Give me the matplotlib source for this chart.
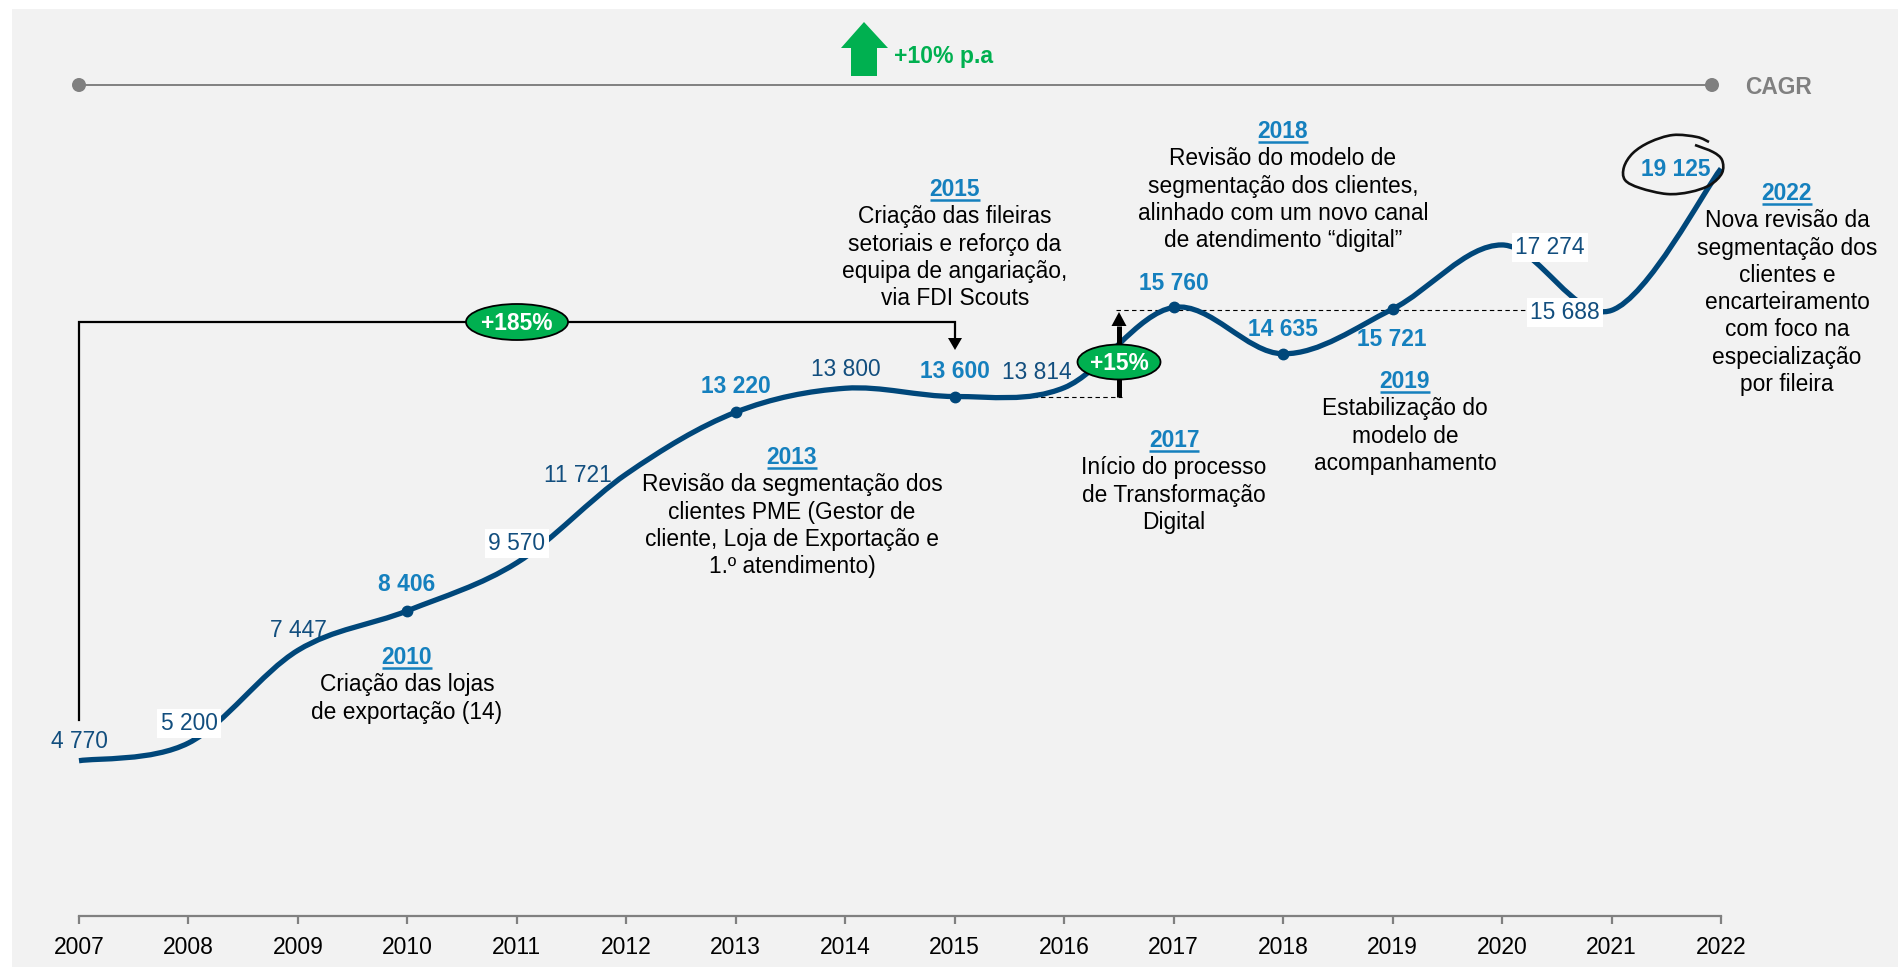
import matplotlib
matplotlib.use("Agg")
import matplotlib.pyplot as plt
from matplotlib.path import Path
from matplotlib.patches import PathPatch, Rectangle, Ellipse, Polygon, Circle
from matplotlib.transforms import Affine2D

plt.rcParams['font.family'] = ['Liberation Sans', 'DejaVu Sans']

years = list(range(2007, 2023))
values = [4770, 5200, 7447, 8406, 9570, 11721, 13220, 13800, 13600, 13814,
          15760, 14635, 15721, 17274, 15688, 19125]
marker_years = [2010, 2013, 2015, 2017, 2018, 2019]
value_labels = ['4 770', '5 200', '7 447', '8 406', '9 570', '11 721', '13 220', '13 800',
                '13 600', '13 814', '15 760', '14 635', '15 721', '17 274', '15 688', '19 125']
bold_years = [2010, 2013, 2015, 2017, 2018, 2019, 2022]
boxed_years = [2008, 2011, 2020, 2021]
growth_total = '+185%'
growth_recent = '+15%'
cagr_text = '+10% p.a'
notes = {
    2010: ['Criação das lojas', 'de exportação (14)'],
    2013: ['Revisão da segmentação dos', 'clientes PME (Gestor de',
           'cliente, Loja de Exportação e', '1.º atendimento)'],
    2015: ['Criação das fileiras', 'setoriais e reforço da',
           'equipa de angariação,', 'via FDI Scouts'],
    2017: ['Início do processo', 'de Transformação', 'Digital'],
    2018: ['Revisão do modelo de', 'segmentação dos clientes,',
           'alinhado com um novo canal', 'de atendimento “digital”'],
    2019: ['Estabilização do', 'modelo de', 'acompanhamento'],
    2022: ['Nova revisão da', 'segmentação dos', 'clientes e', 'encarteiramento',
           'com foco na', 'especialização', 'por fileira'],
}

W, H = 1898, 967
LINE = '#00477A'; DARK = '#124E7E'; BLUE = '#1580BE'; GREEN = '#00B050'; GREY = '#808080'
FS = 16.35

fig = plt.figure(figsize=(W / 100, H / 100), dpi=100, facecolor='white')
ax = fig.add_axes([0, 0, 1, 1])
ax.patch.set_visible(False)
step = (1721 - 79) / 15
ax.set_xlim(2007 - 79 / step, 2022 + (W - 1721) / step)
ax.set_ylim(-230, 23212)
px = Affine2D().scale(1, -1).translate(0, H)   # annotation layout in image pixels

fig.patches.append(Rectangle((12 / W, 0), 1 - 12 / W, 1 - 9 / H, transform=fig.transFigure,
                             facecolor='#F2F2F2', edgecolor='none', zorder=-5))

for s in ['top', 'left', 'right']:
    ax.spines[s].set_visible(False)
ax.spines['bottom'].set_position(('data', 1006))
ax.spines['bottom'].set_bounds(2007, 2022)
ax.spines['bottom'].set_color(GREY)
ax.spines['bottom'].set_linewidth(1.6)
ax.set_yticks([])
ax.set_xticks(years)
ax.set_xticklabels([str(y) for y in years], fontsize=16.5, color='black')
ax.tick_params(axis='x', direction='out', length=5.8, width=1.6, color=GREY, pad=8.6)


def smooth_path(xs, ys):
    """Catmull-Rom spline through the points, as cubic Bezier segments."""
    n = len(xs)
    verts = [(xs[0], ys[0])]
    codes = [Path.MOVETO]
    for i in range(n - 1):
        x0, y0 = (xs[i - 1], ys[i - 1]) if i > 0 else (xs[i], ys[i])
        x3, y3 = (xs[i + 2], ys[i + 2]) if i + 2 < n else (xs[i + 1], ys[i + 1])
        c1 = (xs[i] + (xs[i + 1] - x0) / 6, ys[i] + (ys[i + 1] - y0) / 6)
        c2 = (xs[i + 1] - (x3 - xs[i]) / 6, ys[i + 1] - (y3 - ys[i]) / 6)
        verts += [c1, c2, (xs[i + 1], ys[i + 1])]
        codes += [Path.CURVE4] * 3
    return Path(verts, codes)


# main curve and markers
ax.add_patch(PathPatch(smooth_path(years, values), facecolor='none', edgecolor=LINE,
                       linewidth=3.8, capstyle='butt', zorder=3))
ax.plot(marker_years, [values[years.index(y)] for y in marker_years], linestyle='none',
        marker='o', markersize=7.5, color=LINE, zorder=4)

# dashed reference levels of the +15% step
ax.plot([2015, 2016.53], [13600, 13600], color='black', lw=0.8, ls=(0, (4, 3)), zorder=2)
ax.plot([2016.47, 2021], [15688, 15688], color='black', lw=0.8, ls=(0, (4, 3)), zorder=2)

# value labels
label_pos = {2007: (79, 739), 2008: (189, 721), 2009: (298, 628), 2010: (407, 582),
             2011: (517, 541), 2012: (578, 473), 2013: (736, 384), 2014: (846, 367),
             2015: (955, 369), 2016: (1037, 370), 2017: (1174, 281), 2018: (1283, 327),
             2019: (1392, 337), 2020: (1550, 245), 2021: (1565, 310), 2022: (1676, 167)}
for y, txt in zip(years, value_labels):
    bbox = dict(facecolor='white', edgecolor='none', pad=2.5) if y in boxed_years else None
    ax.text(*label_pos[y], txt, transform=px, ha='center', va='center_baseline', fontsize=FS,
            color=BLUE if y in bold_years else DARK,
            fontweight='bold' if y in bold_years else 'normal', bbox=bbox, zorder=6)

# year notes
note_pos = {2010: (407, 655), 2013: (792, 455), 2015: (955, 187), 2017: (1174, 438),
            2018: (1283, 129), 2019: (1405, 379), 2022: (1787, 191)}
renderer = fig.canvas.get_renderer()
for y, lines in notes.items():
    cx, cy = note_pos[y]
    head = ax.text(cx, cy, str(y), transform=px, ha='center', va='center_baseline', fontsize=FS,
                   color=BLUE, fontweight='bold', zorder=6)
    ext = head.get_window_extent(renderer)
    ax.plot([ext.x0, ext.x1], [cy + 13, cy + 13], transform=px, color=BLUE, lw=1.8,
            solid_capstyle='butt', zorder=6)
    for i, line in enumerate(lines):
        ax.text(cx, cy + 27.3 * (i + 1), line, transform=px, ha='center', va='center_baseline',
                fontsize=FS, color='black', zorder=6)

# CAGR line
ax.plot([79, 1712], [85, 85], transform=px, color=GREY, lw=1.4, zorder=2)
for x in (79, 1712):
    ax.add_patch(Circle((x, 85), 7, transform=px, facecolor=GREY, edgecolor='none', zorder=3))
ax.text(1778, 84.5, 'CAGR', transform=px, ha='center', va='center_baseline', fontsize=FS,
        fontweight='bold', color=GREY)
ax.add_patch(Polygon([(864, 22), (888, 48), (877, 48), (877, 76), (851, 76), (851, 48), (841, 48)],
                     closed=True, transform=px, facecolor=GREEN, edgecolor='none', zorder=3))
ax.text(894.5, 54, cagr_text, transform=px, ha='left', va='center_baseline', fontsize=16.6,
        fontweight='bold', color=GREEN)

# +185% bracket
ax.plot([79, 79, 955, 955], [720, 322, 322, 340], transform=px, color='black', lw=1.6,
        solid_joinstyle='miter', zorder=2)
ax.add_patch(Polygon([(955, 350), (948, 338), (962, 338)], closed=True, transform=px,
                     facecolor='black', edgecolor='none', zorder=2))
ax.add_patch(Ellipse((517, 322), 102, 36, transform=px, facecolor=GREEN, edgecolor='black',
                     lw=1.3, zorder=5))
ax.text(517, 321.5, growth_total, transform=px, ha='center', va='center_baseline', fontsize=FS,
        fontweight='bold', color='white', zorder=6)

# +15% arrow
ax.plot([1119, 1119], [397, 326], transform=px, color='black', lw=3.6,
        solid_capstyle='butt', zorder=4)
ax.add_patch(Polygon([(1119, 312), (1111.5, 326), (1126.5, 326)], closed=True, transform=px,
                     facecolor='black', edgecolor='none', zorder=4))
ax.add_patch(Ellipse((1119, 362), 83, 35, transform=px, facecolor=GREEN, edgecolor='black',
                     lw=1.3, zorder=5))
ax.text(1119, 361.5, growth_recent, transform=px, ha='center', va='center_baseline', fontsize=FS,
        fontweight='bold', color='white', zorder=6)

# hand-drawn ring round the last value
ring_x = [1709, 1697, 1673, 1650, 1633, 1624, 1625, 1640, 1667, 1690, 1710, 1722, 1722, 1713, 1695]
ring_y = [142, 137, 135, 142, 153, 167, 180, 188, 194, 192, 185, 173, 160, 152, 145]
ax.add_patch(PathPatch(smooth_path(ring_x, ring_y), transform=px, facecolor='none',
                       edgecolor='#111111', lw=1.9, zorder=7))

fig.savefig('out.png', dpi=100, facecolor='white')
